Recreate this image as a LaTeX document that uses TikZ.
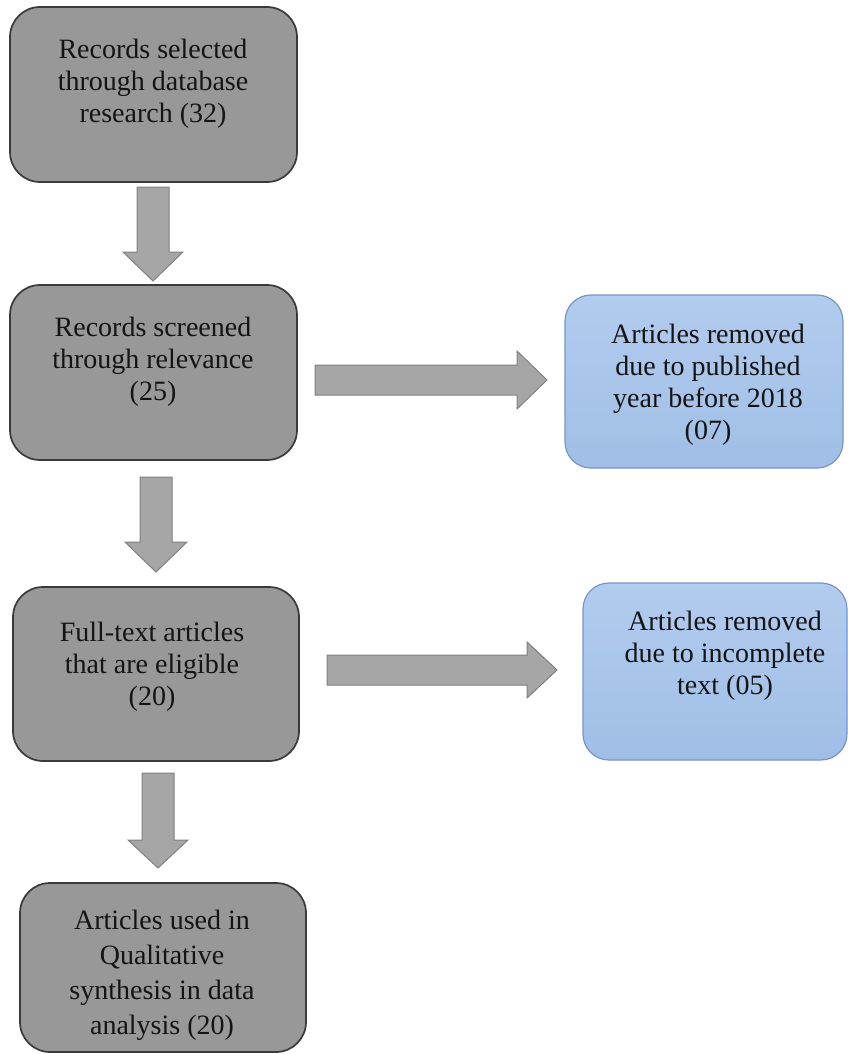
\documentclass[tikz,border=0pt]{standalone}
\usepackage{fontspec}
\setmainfont{Liberation Serif}
\usetikzlibrary{calc}
\definecolor{boxgray}{RGB}{152,152,152}
\definecolor{boxedge}{RGB}{58,58,58}
\definecolor{arrfill}{RGB}{166,166,166}
\definecolor{arredge}{RGB}{128,128,128}
\definecolor{bluetop}{RGB}{178,204,238}
\definecolor{bluebot}{RGB}{160,190,230}
\definecolor{blueedge}{RGB}{118,150,200}
\definecolor{inktext}{RGB}{20,20,20}
% down block arrow: cx, top, headbase, tip, shaft half, head half
\newcommand\DownBlk[6]{%
  \draw[blockarrow] ({#1-#5},#2) -- ({#1+#5},#2) -- ({#1+#5},#3) -- ({#1+#6},#3)
    -- (#1,#4) -- ({#1-#6},#3) -- ({#1-#5},#3) -- cycle;}
% right block arrow: cy, left, headbase, tip, shaft half, head half
\newcommand\RightBlk[6]{%
  \draw[blockarrow] (#2,{#1-#5}) -- (#3,{#1-#5}) -- (#3,{#1-#6}) -- (#4,#1)
    -- (#3,{#1+#6}) -- (#3,{#1+#5}) -- (#2,{#1+#5}) -- cycle;}
\begin{document}
\begin{tikzpicture}[x=1pt,y=-1pt,
  graybox/.style={draw=boxedge, line width=1.7pt, fill=boxgray, rounded corners=30pt, inner sep=0},
  bluebox/.style={draw=blueedge, line width=1.2pt, top color=bluetop, bottom color=bluebot, rounded corners=26pt, inner sep=0},
  txt/.style={align=center, font=\fontsize{28}{32}\selectfont, text=inktext, inner sep=0},
  blockarrow/.style={fill=arrfill, draw=arredge, line width=1pt, line join=miter}]
\useasboundingbox (0,0) rectangle (848,1054);
\fill[white] (0,0) rectangle (848,1054);

% boxes
\node[graybox, minimum width=287pt, minimum height=175pt] (b1) at (153.5,94.5) {};
\node[graybox, minimum width=287pt, minimum height=175pt] (b2) at (153.5,372.5) {};
\node[graybox, minimum width=286pt, minimum height=174pt] (b3) at (156,674) {};
\node[graybox, minimum width=286pt, minimum height=169pt] (b4) at (163,967.5) {};
\node[bluebox, minimum width=278pt, minimum height=173pt] (r1) at (704,381.5) {};
\node[bluebox, minimum width=264pt, minimum height=177pt] (r2) at (715,671.5) {};

% texts
\node[txt] (t1) at (153,84) {Records selected\\through database\\research (32)};
\node[txt] (t2) at (153,362) {Records screened\\through relevance\\(25)};
\node[txt] (t3) at (152,667) {Full-text articles\\that are eligible\\(20)};
\node[txt, font=\fontsize{28}{35}\selectfont] (t4) at (162,975) {Articles used in\\Qualitative\\synthesis in data\\analysis (20)};
\node[txt] (t5) at (708,385) {Articles removed\\due to published\\year before 2018\\(07)};
\node[txt] (t6) at (725,656) {Articles removed\\due to incomplete\\text (05)};

% block arrows
\DownBlk{153}{187}{252}{281}{16}{30}
\DownBlk{156}{477}{542}{572}{16}{31}
\DownBlk{158}{773}{840}{868}{16}{30}
\RightBlk{380}{315}{517}{547}{15}{29}
\RightBlk{670}{327}{527}{557}{15}{28}
\end{tikzpicture}
\end{document}
